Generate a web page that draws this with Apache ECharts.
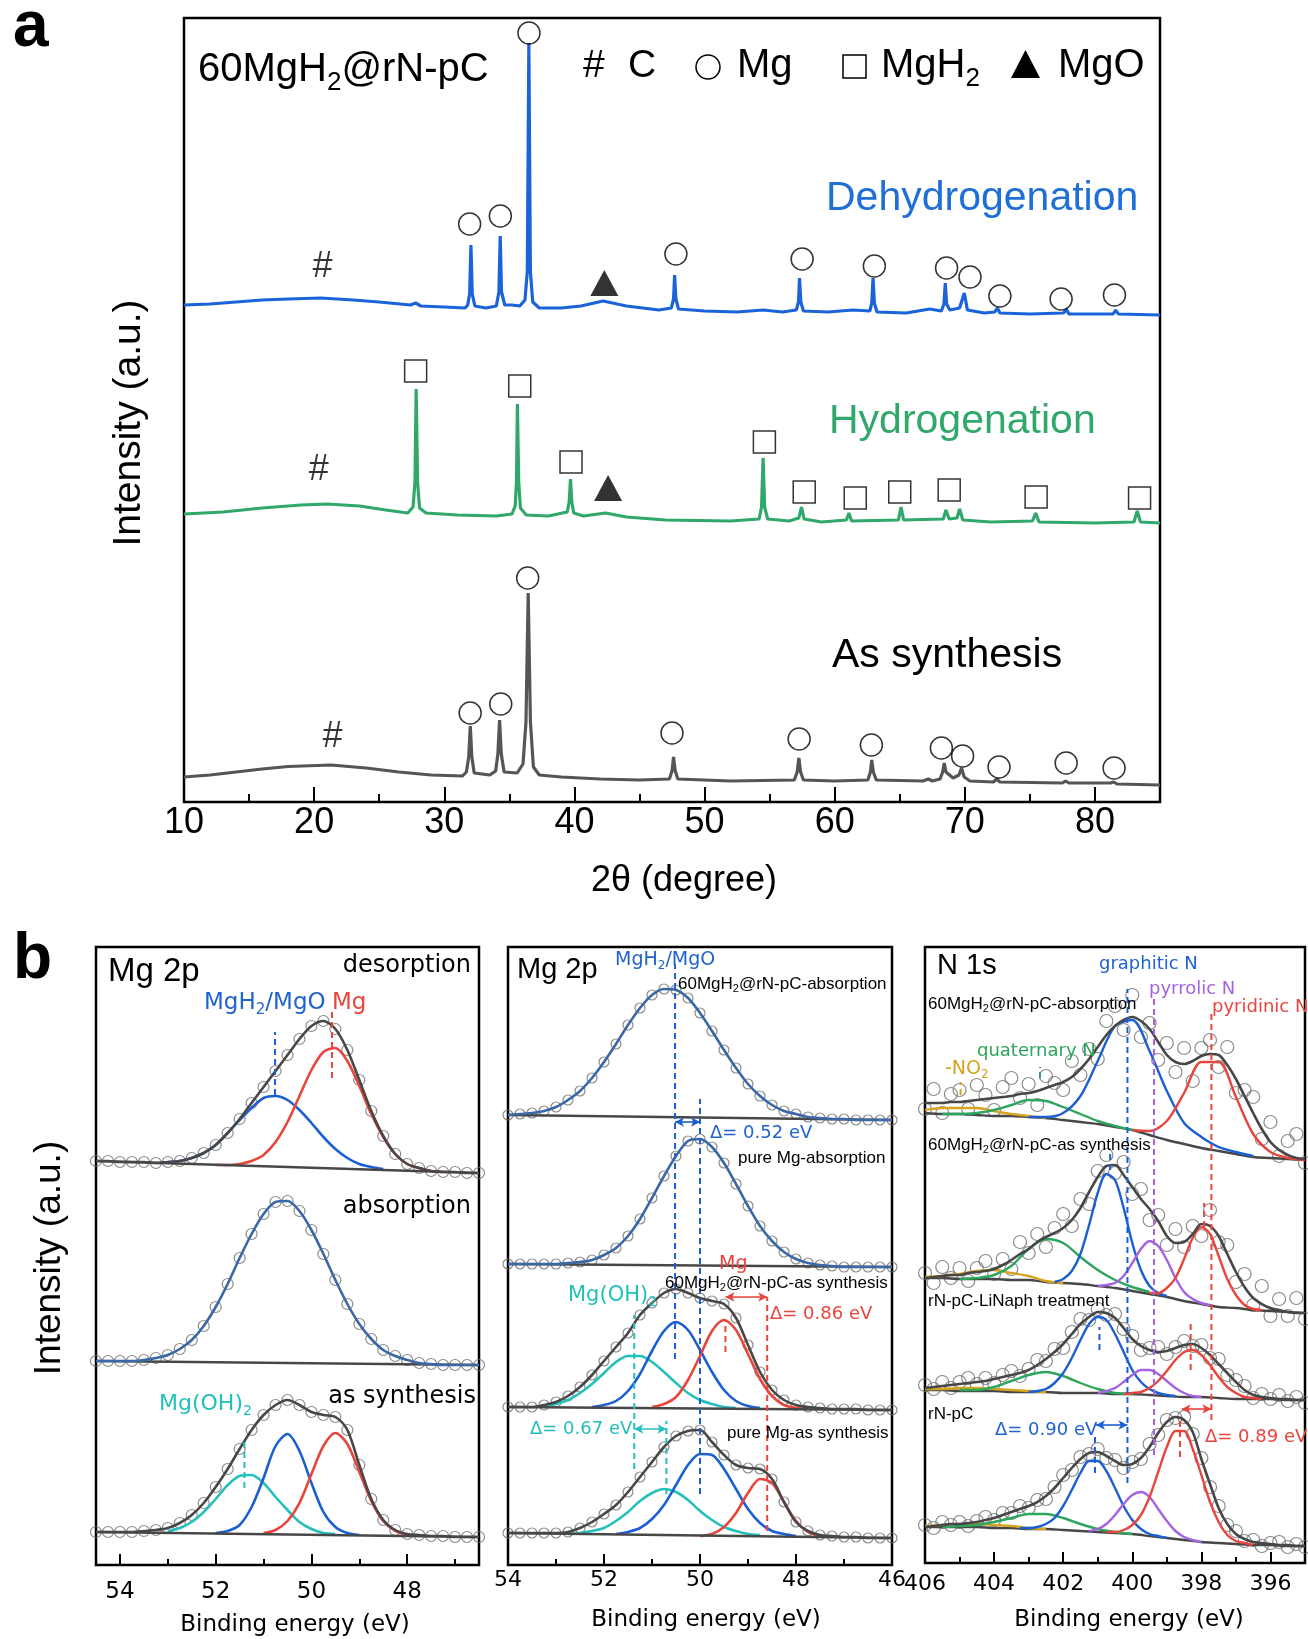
<!DOCTYPE html>
<html>
<head>
<meta charset="utf-8">
<script src="https://cdn.jsdelivr.net/npm/echarts@6/dist/echarts.min.js"></script>
<style>
  html, body { margin: 0; padding: 0; background: #fff; }
  #chart { width: 1308px; height: 1639px; }
</style>
</head>
<body>
<div id="chart"></div>
<script>
// ---------- panel a : XRD patterns [2θ, intensity] ----------
const xrdDehyd = [[10,497],[12,498],[14,500],[16,502],[18,503],[20.5,504],[23,502],[25,500],[27.4,497],[27.8,499],[28.2,496],[30,495],[31.6,494],
  [31.8,497],[31.95,508],[32.05,557],[32.15,508],[32.35,496],[33.2,494],[34.0,496],[34.2,510],[34.3,566],[34.4,510],[34.65,497],[35.2,497],[35.8,496],
  [36.2,502],[36.38,530],[36.5,759],[36.62,530],[36.8,500],[37.3,494],[39,494],[40.5,496],[42.2,501],[44,496],[46.5,492],
  [47.45,494],[47.62,503],[47.7,527],[47.8,503],[48.0,493],[50,491],[52.5,490],[54.5,492],[56,490],
  [57.05,492],[57.22,500],[57.3,524],[57.4,500],[57.6,491],[59.5,490],[61.4,492],[62.7,491],
  [62.85,499],[62.95,524],[63.05,499],[63.25,490],[65.5,489],[67.3,493],[68.2,491],
  [68.4,498],[68.5,519],[68.6,498],[68.85,492],[69.6,494],[69.96,509],[70.2,492],
  [71.5,489],[72.3,490],[72.5,494],[72.7,489],[75,488],[77.6,489],[77.8,493],[78,488],[81.4,488],[81.6,492],[81.8,488],[85,487]];
const xrdHyd = [[10,288],[13,290],[16,294],[19,297],[21,298],[23.5,296],[25.5,292],[27.2,289],
  [27.6,295],[27.75,320],[27.84,413],[27.95,320],[28.1,294],[28.6,289],[31,287],[34,286],[35.2,288],
  [35.45,296],[35.55,320],[35.62,398],[35.72,320],[35.85,294],[36.3,287],[38,286],
  [39.45,290],[39.6,300],[39.7,323],[39.8,300],[39.95,289],[40.7,286],[42.4,289],[44,285],[47,282],[52,281],[54.2,283],
  [54.38,295],[54.5,344],[54.62,295],[54.85,283],[56.5,281],[57.25,284],[57.45,295],[57.65,283],[59,280],
  [60.9,282],[61.1,289],[61.3,281],[64.9,282],[65.1,295],[65.3,282],[68.35,283],[68.55,292],[68.8,283],
  [69.4,284],[69.6,293],[69.85,282],[72,280],[75.2,281],[75.45,289],[75.7,280],[80,279],[83,280],[83.25,291],[83.5,280],[85,279]];
const xrdAsSyn = [[10,25],[12,27],[14,30],[16,33],[18,35.5],[21.3,37],[24,34],[26.5,30],[29,27],[31.4,26],
  [31.7,30],[31.88,45],[32.0,76],[32.12,45],[32.3,29],[33.5,27],[33.95,31],[34.12,48],[34.25,82],[34.38,48],[34.6,30],[35.6,29],
  [36.05,38],[36.28,80],[36.45,209],[36.62,80],[36.85,35],[37.3,27],[39,25],[42,23],[45,22],
  [47.3,23],[47.5,31],[47.62,45],[47.75,31],[47.95,23],[52,21],[56.9,22],[57.12,30],[57.25,44],[57.38,30],[57.6,22],
  [60,21],[62.55,22],[62.75,30],[62.85,42],[62.97,30],[63.2,22],[66.8,21],[67.2,23],[67.5,21],
  [68.1,23],[68.3,30],[68.42,39],[68.55,30],[69.1,24],[69.55,27],[69.75,34],[69.95,25],[70.4,21],
  [72.2,20],[72.45,23],[72.7,20],[77.5,19],[77.75,21],[78,19],[81.2,19],[81.45,20],[81.7,18],[85,17]];

// phase markers above the peaks
const mgPeaks = [[36.51,769],[31.95,578],[34.31,586],[47.8,548],[57.5,543],[63.05,536],[68.6,534],[70.4,525],[72.7,506],[77.4,503],[81.5,507],
  [36.41,224],[31.99,89],[34.34,98],[47.5,69],[57.27,63],[62.82,57],[68.2,54],[69.83,46],[72.63,35],[77.79,39],[81.47,34]];
const mgh2Peaks = [[27.8,431],[35.8,416],[39.74,340],[54.6,360],[57.66,310],[61.58,304],[65.0,310],[68.8,312],[75.48,305],[83.43,304]];
const mgoPeaks = [[42.3,519],[42.59,314]];
const carbonHumps = [[20.65,535],[20.35,332],[21.42,65]];

// ---------- panel b : XPS (binding energy grids, intensity a.u.) ----------
const seq = (x0, step, n) => Array.from({ length: n }, (_, i) => +(x0 + i * step).toFixed(2));
const zip = (xs, ys) => xs.map((x, i) => [x, ys[i]]);
const pts = (x0, step, ys) => zip(seq(x0, step, ys.length), ys);

// b1 Mg 2p, grid 54.5 -> 46.5 eV
const b1X = seq(54.5, -0.25, 33);
const b1DesEnv = [404,404,403,403,403,402,403,404,407,412,420,432,446,462,478,494,510,526,539,544,536,515,485,454,429,411,401,397,394,393,393,392,392];
const b1DesBlue = [403,404,407,412,420,432,445,457,467,469,465,455,442,428,416,407,401,398,396];          // from 53.0
const b1DesRed = [400,400,401,404,410,423,443,469,495,513,517,504,479,451,428,411,401,397,394,393];      // from 52.0
const b1DesBase = [[54.5,404],[46.5,392]];
const b1AbsEnv = [204,204,204,204,205,207,210,216,225,239,258,281,307,331,351,363,364,354,335,311,285,261,241,226,215,209,205,202,201,200,200,200,200];
const b1AbsBase = [[54.5,204],[46.5,200]];
const b1SynEnv = [33,33,33,33,34,35,37,42,50,62,78,96,116,135,150,160,165,160,153,150,148,135,100,66,45,35,31,30,29,29,28,28,28];
const b1SynCyan = [34,37,43,53,66,80,89,90,82,68,55,43,36,32,31];     // from 53.0
const b1SynBlue = [32,34,40,58,87,119,131,114,82,53,38,32,30];        // from 52.0
const b1SynRed = [32,35,44,62,91,119,132,121,93,64,44,34,30];         // from 51.0
const b1SynBase = [[54.5,33],[46.5,28]];

// b2 Mg 2p comparison, grid 54 -> 46 eV
const b2X = seq(54, -0.25, 33);
const b2AbsEnv = [450,451,452,454,458,465,474,487,503,521,540,557,570,576,575,567,552,534,515,497,481,469,460,454,451,448,447,446,446,445,445,445,445];
const b2AbsBase = [[54,450],[46,445]];
const b2PureAbsEnv = [301,301,301,301,301,302,303,305,310,317,329,346,367,389,409,424,426,418,402,381,359,339,324,313,306,302,300,299,298,298,298,298,298];
const b2PureAbsBase = [[54,301],[46,298]];
const b2SynEnv = [158,158,158,160,163,169,178,190,204,218,232,250,262,272,276,272,267,264,261,247,220,193,175,165,160,158,157,156,156,156,155,155,155];
const b2SynCyan = [159,161,165,172,181,192,203,209,209,203,193,182,172,165,161,158,157];   // from 53.25
const b2SynBlue = [158,160,164,174,191,214,234,243,235,215,193,175,164,159,157];           // from 52.25
const b2SynRed = [158,161,168,185,209,234,245,235,211,186,169,160,157,156];                // from 51.0
const b2SynBase = [[54,158],[46,155]];
const b2PureSynEnv = [32,32,32,32,32,33,37,43,51,60,73,88,103,118,129,134,135,123,110,100,97,96,86,63,43,34,30,29,28,28,27,27,27];
const b2PureSynCyan = [31,32,34,37,44,53,64,72,76,73,65,54,45,38,34,31,30];   // from 52.75
const b2PureSynBlue = [31,33,37,46,60,80,100,111,110,96,76,56,42,34,31,29];   // from 51.75
const b2PureSynRed = [29,31,38,52,72,86,82,63,44,33,29,28];                   // from 50.0
const b2PureSynBase = [[54,32],[46,27]];

// b3 N 1s, grid 406 -> 395 eV
const b3X = seq(406, -0.25, 45);
const b3Xb = seq(406, -0.5, 23);
const b3EnvA = [460,460,460,461,461,462,463,464,465,466,467,469,470,472,475,478,481,486,494,504,516,528,537,543,546,542,534,521,508,501,499,502,507,509,508,498,484,467,450,434,421,413,408,405,404];
const b3DotsA = [454,474,450,469,473,454,478,468,453,476,485,465,479,458,487,480,473,502,488,514,504,542,557,533,568,526,540,503,520,491,515,482,515,523,496,516,470,473,466,424,441,407,422,429,400];
const b3BaseA = [450,449,449,448,447,447,446,445,443,441,439,436,433,428,423,419,415,412,409,406,405,404,403];
const b3GoldA = [453,455,455,455,452,449,447,445];                   // from 406, 0.5 step
const b3GreenA = [449,449,450,453,458,463,462,456,449,442,437,433];  // from 405.5
const b3BlueA = [446,446,450,467,502,537,543,512,472,440,426,416,411,407]; // from 403
const b3RedA = [433,432,442,470,501,501,466,429,411,405,403];        // from 400
const b3EnvB = [285,286,287,288,288,290,291,292,294,298,303,309,314,321,326,330,335,343,355,371,386,397,398,388,376,364,354,342,327,320,321,329,339,337,327,309,291,276,265,259,255,253,251,250,250];
const b3DotsB = [290,280,296,285,295,282,295,302,289,304,294,321,310,329,316,335,349,337,364,359,392,408,390,401,369,374,343,348,318,334,316,337,327,353,321,318,281,289,258,277,247,264,247,265,244];
const b3BaseB = [285,285,284,284,284,283,283,281,280,279,277,275,272,269,266,262,259,256,255,253,252,251,250];
const b3GoldB = [286,287,289,292,293,290,287,282,280];               // from 406, 0.5
const b3GreenB = [284,285,288,297,314,324,320,306,293,283,276,271];  // from 405, 0.5
const b3BlueB = [281,284,292,309,338,370,389,383,355,320,293,277,270,267];   // from 402.25, 0.25
const b3PurpleB = [277,278,280,287,300,314,322,317,303,285,271,264,260,258]; // from 401
const b3RedB = [270,270,275,285,304,325,336,329,307,284,268,258,254,253];    // from 399.5
const b3EnvC = [175,176,177,178,179,180,181,182,184,186,188,190,193,198,204,211,219,229,239,246,251,250,245,235,224,217,213,211,212,215,218,219,215,208,199,190,181,173,168,166,165,164,164,163,163];
const b3DotsC = [178,174,181,175,181,185,179,185,180,188,192,187,194,203,202,214,215,231,244,243,254,248,249,234,227,213,215,216,209,216,222,217,218,205,204,188,183,177,165,169,164,168,162,166,160];
const b3BaseC = [173,173,172,172,172,171,171,171,170,170,170,169,169,168,167,166,166,165,164,164,164,163,163];
const b3GoldC = [174,174,175,175,174,173,172,171];                   // from 406, 0.5
const b3GreenC = [173,173,176,182,188,191,187,180,174,170,169];      // from 405, 0.5
const b3BlueC = [171,172,174,180,190,205,223,239,246,243,229,211,193,181,174,170,168,167]; // from 403, 0.25
const b3PurpleC = [170,172,175,181,188,193,193,189,182,175,170,167,166];                  // from 401
const b3RedC = [169,170,171,175,182,192,203,211,213,208,198,186,176,170,166,165,164];     // from 400.25
const b3EnvD = [36,37,38,39,39,40,41,43,45,48,51,54,57,61,67,75,85,95,104,110,111,107,102,98,99,105,116,130,141,146,143,131,104,79,55,39,29,24,21,20,19,18,18,17,17];
const b3DotsD = [38,35,41,38,41,37,42,46,43,50,50,57,55,63,64,76,88,93,106,109,114,105,103,95,101,104,119,128,143,145,146,129,105,76,57,38,32,22,23,17,20,21,16,19,16];
const b3BaseD = [36,36,36,36,35,35,34,34,33,32,31,30,29,27,25,23,21,20,19,18,18,17,17];
const b3GoldD = [37,38,39,39,38,37,35,34];                           // from 406, 0.5
const b3GreenD = [36,37,38,41,45,49,49,45,39,34,31,29];              // from 405.5, 0.5
const b3BlueD = [35,35,36,39,45,57,73,90,102,102,92,75,57,43,34,29,27,25];  // from 403.25, 0.25
const b3PurpleD = [32,34,39,48,59,68,71,66,54,42,32,26,23,21];              // from 401.25
const b3RedD = [31,31,33,38,48,66,91,116,132,132,114,88,61,41,28,22,20,18]; // from 400.75

// peak-position guides [eV, from, to] and shifts [eV1, eV2, level]
const b1Guides = { blue: [[50.76,470,533]], red: [[49.57,487,557]], cyan: [[51.4,77,123]] };
const b2Guides = { blue: [[50.52,206,601],[50.0,71,466]], red: [[49.47,213,245],[48.6,34,268]], cyan: [[51.37,96,250],[50.7,71,144]] };
const b2Shifts = { blue: [50.52,50.0,443], red: [49.47,48.6,268], cyan: [51.37,50.7,136] };
const b3Guides = { blue: [[400.14,80,574],[400.64,393,413],[400.95,213,236],[401.08,90,130]],
  purple: [[399.37,108,567]], red: [[397.71,143,553],[397.92,336,360],[398.31,193,240],[398.62,106,146]],
  green: [[402.67,485,496]], gold: [[404.97,468,481]] };
const b3Shifts = { blue: [401.05,400.14,138], red: [398.57,397.71,154] };

// ---------- styling ----------
const SANS = 'Liberation Sans', VERD = 'DejaVu Sans';
const COL = { blue: '#1c5fd2', red: '#e8453c', cyan: '#26c0bc', purple: '#a463e0', green: '#2ea55c', gold: '#d6a41e',
  dark: '#474747', dot: '#6e6e6e', steel: '#3a67a6' };
const TXT = { blue: '#1f62d0', red: '#e8453c', cyan: '#22bfbb', purple: '#a463e0', green: '#2ea55c', gold: '#d4a11c' };

const series = [];
const ax = g => ({ xAxisIndex: 2 * g, yAxisIndex: g });
function curve(g, data, color, width, z, smooth) {
  series.push({ type: 'line', ...ax(g), data, symbol: 'none', smooth: smooth === undefined ? 0.3 : smooth,
    z, silent: true, lineStyle: { color, width } });
}
function dots(g, data, size) {
  series.push({ type: 'scatter', ...ax(g), data, symbol: 'circle', symbolSize: size, z: 2, silent: true,
    itemStyle: { color: 'none', borderColor: COL.dot, borderWidth: 1.2 } });
}
function guides(g, set) {
  Object.keys(set).forEach(k => set[k].forEach(([x, y1, y2]) => series.push({ type: 'line', ...ax(g),
    data: [[x, y1], [x, y2]], symbol: 'none', z: 6, silent: true, lineStyle: { color: COL[k], width: 2, type: [6, 4] } })));
}
function shifts(g, set) {
  Object.keys(set).forEach(k => {
    const [x1, x2, y] = set[k];
    series.push({ type: 'line', ...ax(g), data: [[x1, y], [x2, y]], symbol: 'none', z: 6, silent: true,
      lineStyle: { opacity: 0 },
      markLine: { silent: true, animation: false, symbol: ['arrow', 'arrow'], symbolSize: [7, 9], label: { show: false },
        lineStyle: { color: COL[k], width: 1.6, type: 'solid' }, data: [[{ coord: [x1, y] }, { coord: [x2, y] }]] } });
  });
}

// panel a
const xrdLine = (data, color) => series.push({ type: 'line', ...ax(0), data, symbol: 'none', silent: true, z: 3,
  lineStyle: { color, width: 3.2 } });
xrdLine(xrdDehyd, '#1b63d8');
xrdLine(xrdHyd, '#30a86b');
xrdLine(xrdAsSyn, '#555555');
const marker = (data, symbol, size, fill) => series.push({ type: 'scatter', ...ax(0), data, symbol, symbolSize: size, z: 5, silent: true,
  itemStyle: fill ? { color: '#000' } : { color: 'none', borderColor: '#000', borderWidth: 1.5 } });
marker(mgPeaks, 'circle', 22, false);
marker(mgh2Peaks, 'rect', 22, false);
marker(mgoPeaks, 'triangle', [28, 26], true);
series.push({ type: 'scatter', ...ax(0), data: carbonHumps, symbolSize: 1, z: 5, silent: true, itemStyle: { color: 'rgba(0,0,0,0)' },
  label: { show: true, position: 'inside', formatter: '#', fontSize: 36, fontFamily: SANS, color: '#000' } });

// b1
dots(1, zip(b1X, b1DesEnv), 11);
curve(1, zip(b1X, b1DesEnv), COL.dark, 2.6, 4);
curve(1, pts(53, -0.25, b1DesBlue), COL.blue, 2.6, 3);
curve(1, pts(52, -0.25, b1DesRed), COL.red, 2.6, 3);
curve(1, b1DesBase, COL.dark, 2.4, 3, false);
dots(1, zip(b1X, b1AbsEnv), 11);
curve(1, zip(b1X, b1AbsEnv), COL.steel, 2.6, 4);
curve(1, b1AbsBase, COL.dark, 2.4, 3, false);
dots(1, zip(b1X, b1SynEnv), 11);
curve(1, zip(b1X, b1SynEnv), COL.dark, 2.6, 4);
curve(1, pts(53, -0.25, b1SynCyan), COL.cyan, 2.6, 3);
curve(1, pts(52, -0.25, b1SynBlue), COL.blue, 2.6, 3);
curve(1, pts(51, -0.25, b1SynRed), COL.red, 2.6, 3);
curve(1, b1SynBase, COL.dark, 2.4, 3, false);
guides(1, b1Guides);

// b2
dots(2, zip(b2X, b2AbsEnv), 10);
curve(2, zip(b2X, b2AbsEnv), COL.steel, 2.6, 4);
curve(2, b2AbsBase, COL.dark, 2.4, 3, false);
dots(2, zip(b2X, b2PureAbsEnv), 10);
curve(2, zip(b2X, b2PureAbsEnv), COL.steel, 2.6, 4);
curve(2, b2PureAbsBase, COL.dark, 2.4, 3, false);
dots(2, zip(b2X, b2SynEnv), 10);
curve(2, zip(b2X, b2SynEnv), COL.dark, 2.6, 4);
curve(2, pts(53.25, -0.25, b2SynCyan), COL.cyan, 2.6, 3);
curve(2, pts(52.25, -0.25, b2SynBlue), COL.blue, 2.6, 3);
curve(2, pts(51, -0.25, b2SynRed), COL.red, 2.6, 3);
curve(2, b2SynBase, COL.dark, 2.4, 3, false);
dots(2, zip(b2X, b2PureSynEnv), 10);
curve(2, zip(b2X, b2PureSynEnv), COL.dark, 2.6, 4);
curve(2, pts(52.75, -0.25, b2PureSynCyan), COL.cyan, 2.6, 3);
curve(2, pts(51.75, -0.25, b2PureSynBlue), COL.blue, 2.6, 3);
curve(2, pts(50, -0.25, b2PureSynRed), COL.red, 2.6, 3);
curve(2, b2PureSynBase, COL.dark, 2.4, 3, false);
guides(2, b2Guides);
shifts(2, b2Shifts);

// b3
[[b3DotsA, b3EnvA, b3BaseA], [b3DotsB, b3EnvB, b3BaseB], [b3DotsC, b3EnvC, b3BaseC], [b3DotsD, b3EnvD, b3BaseD]].forEach(([d, e, b]) => {
  dots(3, zip(b3X, d), 13);
  curve(3, zip(b3X, e), COL.dark, 2.6, 4);
  curve(3, zip(b3Xb, b), COL.dark, 2.4, 3);
});
curve(3, pts(406, -0.5, b3GoldA), COL.gold, 2.4, 3);
curve(3, pts(405.5, -0.5, b3GreenA), COL.green, 2.4, 3);
curve(3, pts(403, -0.5, b3BlueA), COL.blue, 2.4, 3);
curve(3, pts(400, -0.5, b3RedA), COL.red, 2.4, 3);
curve(3, pts(406, -0.5, b3GoldB), COL.gold, 2.4, 3);
curve(3, pts(405, -0.5, b3GreenB), COL.green, 2.4, 3);
curve(3, pts(402.25, -0.25, b3BlueB), COL.blue, 2.4, 3);
curve(3, pts(401, -0.25, b3PurpleB), COL.purple, 2.4, 3);
curve(3, pts(399.5, -0.25, b3RedB), COL.red, 2.4, 3);
curve(3, pts(406, -0.5, b3GoldC), COL.gold, 2.4, 3);
curve(3, pts(405, -0.5, b3GreenC), COL.green, 2.4, 3);
curve(3, pts(403, -0.25, b3BlueC), COL.blue, 2.4, 3);
curve(3, pts(401, -0.25, b3PurpleC), COL.purple, 2.4, 3);
curve(3, pts(400.25, -0.25, b3RedC), COL.red, 2.4, 3);
curve(3, pts(406, -0.5, b3GoldD), COL.gold, 2.4, 3);
curve(3, pts(405.5, -0.5, b3GreenD), COL.green, 2.4, 3);
curve(3, pts(403.25, -0.25, b3BlueD), COL.blue, 2.4, 3);
curve(3, pts(401.25, -0.25, b3PurpleD), COL.purple, 2.4, 3);
curve(3, pts(400.75, -0.25, b3RedD), COL.red, 2.4, 3);
guides(3, b3Guides);
shifts(3, b3Shifts);

// ---------- axes ----------
function xPair(g, min, max, major, minor, len, fs, margin) {
  const base = { gridIndex: g, type: 'value', min, max, inverse: g > 0, position: 'bottom',
    axisLine: { show: false, onZero: false }, splitLine: { show: false } };
  const fmt = g === 0 ? (v => (v <= 80 ? String(v) : '')) : (v => (v % 2 === 0 ? String(v) : ''));
  return [
    { ...base, ...major, axisTick: { inside: true, length: len[0], lineStyle: { color: '#000', width: 2 } },
      axisLabel: { margin, color: '#000', fontSize: fs, fontFamily: g ? VERD : SANS, formatter: fmt } },
    { ...base, ...minor, axisTick: { inside: true, length: len[1], lineStyle: { color: '#000', width: 2 } },
      axisLabel: { show: false } }
  ];
}
const xAxis = [
  ...xPair(0, 10, 85, { interval: 10 }, { interval: 5 }, [15, 8], 36, 3),
  ...xPair(1, 46.5, 54.5, { splitNumber: 4 }, { splitNumber: 8 }, [11, 6], 23, 16),
  ...xPair(2, 46, 54, { interval: 2 }, { interval: 1 }, [11, 6], 22, 4),
  ...xPair(3, 395, 406, { splitNumber: 5 }, { splitNumber: 11 }, [11, 6], 22, 10)
];
const yAxis = [784, 618, 618, 616].map((max, g) => ({ gridIndex: g, type: 'value', min: 0, max, show: false }));
const gridBox = (left, top, width, height) => ({ left, top, width, height, show: true, borderColor: '#000', borderWidth: 2.5, backgroundColor: 'transparent' });

// ---------- text ----------
const ctx = document.createElement('canvas').getContext('2d');
const measure = (t, font) => { ctx.font = font; return ctx.measureText(t).width; };
function label(str, x, y, size, color, fam, align, weight) {
  fam = fam || SANS; align = align || 'left'; weight = weight || 'normal';
  const parts = str.split(/(_.)/).filter(p => p).map(p => (p[0] === '_' && p.length === 2 ? [p[1], true] : [p, false]));
  const fonts = parts.map(([, s]) => `${weight} ${s ? Math.round(size * 0.65) : size}px "${fam}"`);
  const widths = parts.map(([t], i) => measure(t, fonts[i]));
  const total = widths.reduce((a, b) => a + b, 0);
  let cx = align === 'right' ? x - total : align === 'center' ? x - total / 2 : x;
  return parts.map(([t, s], i) => {
    const el = { type: 'text', silent: true, z: 100, style: { text: t, x: cx, y: s ? y + size * 0.32 : y, font: fonts[i],
      fill: color || '#000', align: 'left', verticalAlign: 'middle', textAlign: 'left', textVerticalAlign: 'middle' } };
    cx += widths[i];
    return el;
  });
}
const vlabel = (t, x, y, size) => ({ type: 'text', silent: true, z: 100, x, y, rotation: Math.PI / 2,
  style: { text: t, x: 0, y: 0, font: `${size}px "${SANS}"`, fill: '#000', align: 'center', verticalAlign: 'middle', textAlign: 'center', textVerticalAlign: 'middle' } });

const graphic = [
  ...label('a', 13, 28, 64, '#000', SANS, 'left', 'bold'),
  ...label('b', 13, 960, 64, '#000', SANS, 'left', 'bold'),
  vlabel('Intensity (a.u.)', 129, 423, 39),
  vlabel('Intensity (a.u.)', 50, 1258, 37),
  // panel a
  ...label('60MgH_2@rN-pC', 198, 70, 40),
  ...label('#', 583, 66, 39), ...label('C', 628, 66, 39),
  { type: 'circle', silent: true, z: 100, shape: { cx: 708, cy: 67, r: 12 }, style: { fill: 'none', stroke: '#000', lineWidth: 1.5 } },
  ...label('Mg', 737, 66, 40),
  { type: 'rect', silent: true, z: 100, shape: { x: 843, y: 55, width: 23, height: 23 }, style: { fill: 'none', stroke: '#000', lineWidth: 1.5 } },
  ...label('MgH_2', 881, 66, 40),
  { type: 'polygon', silent: true, z: 100, shape: { points: [[1011, 78], [1040, 78], [1025.5, 50]] }, style: { fill: '#000' } },
  ...label('MgO', 1058, 66, 40),
  ...label('Dehydrogenation', 826, 199, 41, '#1f6fd6'),
  ...label('Hydrogenation', 829, 422, 41, '#31a86b'),
  ...label('As synthesis', 832, 656, 41, '#000'),
  ...label('2θ (degree)', 684, 881, 36, '#000', SANS, 'center'),
  // b1
  ...label('Mg 2p', 108, 972, 33),
  ...label('desorption', 471, 966, 24, '#000', VERD, 'right'),
  ...label('MgH_2/MgO', 204, 1003, 23, TXT.blue, VERD),
  ...label('Mg', 332, 1003, 23, TXT.red, VERD),
  ...label('absorption', 471, 1207, 24, '#000', VERD, 'right'),
  ...label('as synthesis', 476, 1397, 24, '#000', VERD, 'right'),
  ...label('Mg(OH)_2', 159, 1404, 22, TXT.cyan, VERD),
  ...label('Binding energy (eV)', 295, 1625, 23, '#000', VERD, 'center'),
  // b2
  ...label('Mg 2p', 517, 970, 29),
  ...label('MgH_2/MgO', 615, 960, 19, TXT.blue, VERD),
  ...label('60MgH_2@rN-pC-absorption', 678, 984, 17),
  ...label('Δ= 0.52 eV', 710, 1133, 18, TXT.blue, VERD),
  ...label('pure Mg-absorption', 738, 1158, 17),
  ...label('Mg', 719, 1264, 19, TXT.red, VERD),
  ...label('60MgH_2@rN-pC-as synthesis', 665, 1283, 17),
  ...label('Mg(OH)_2', 568, 1296, 21, TXT.cyan, VERD),
  ...label('Δ= 0.86 eV', 770, 1314, 18, TXT.red, VERD),
  ...label('Δ= 0.67 eV', 530, 1429, 18, TXT.cyan, VERD),
  ...label('pure Mg-as synthesis', 727, 1433, 17),
  ...label('Binding energy (eV)', 706, 1620, 23, '#000', VERD, 'center'),
  // b3
  ...label('N 1s', 937, 966, 29),
  ...label('graphitic N', 1099, 964, 18, TXT.blue, VERD),
  ...label('pyrrolic N', 1149, 989, 18, TXT.purple, VERD),
  ...label('pyridinic N', 1212, 1007, 18, TXT.red, VERD),
  ...label('60MgH_2@rN-pC-absorption', 928, 1004, 17),
  ...label('quaternary N', 977, 1051, 18, TXT.green, VERD),
  ...label('-NO_2', 945, 1069, 19, TXT.gold, VERD),
  ...label('60MgH_2@rN-pC-as synthesis', 928, 1145, 17),
  ...label('rN-pC-LiNaph treatment', 928, 1301, 17),
  ...label('rN-pC', 928, 1414, 17),
  ...label('Δ= 0.90 eV', 995, 1430, 18, TXT.blue, VERD),
  ...label('Δ= 0.89 eV', 1205, 1437, 18, TXT.red, VERD),
  ...label('Binding energy (eV)', 1129, 1620, 23, '#000', VERD, 'center')
];

const chart = echarts.init(document.getElementById('chart'));
chart.setOption({
  animation: false,
  backgroundColor: '#fff',
  grid: [gridBox(184, 18, 976, 784), gridBox(96, 947, 383, 618), gridBox(508, 947, 384, 618), gridBox(925, 947, 382, 616)],
  xAxis,
  yAxis,
  series,
  graphic
});
</script>
</body>
</html>
